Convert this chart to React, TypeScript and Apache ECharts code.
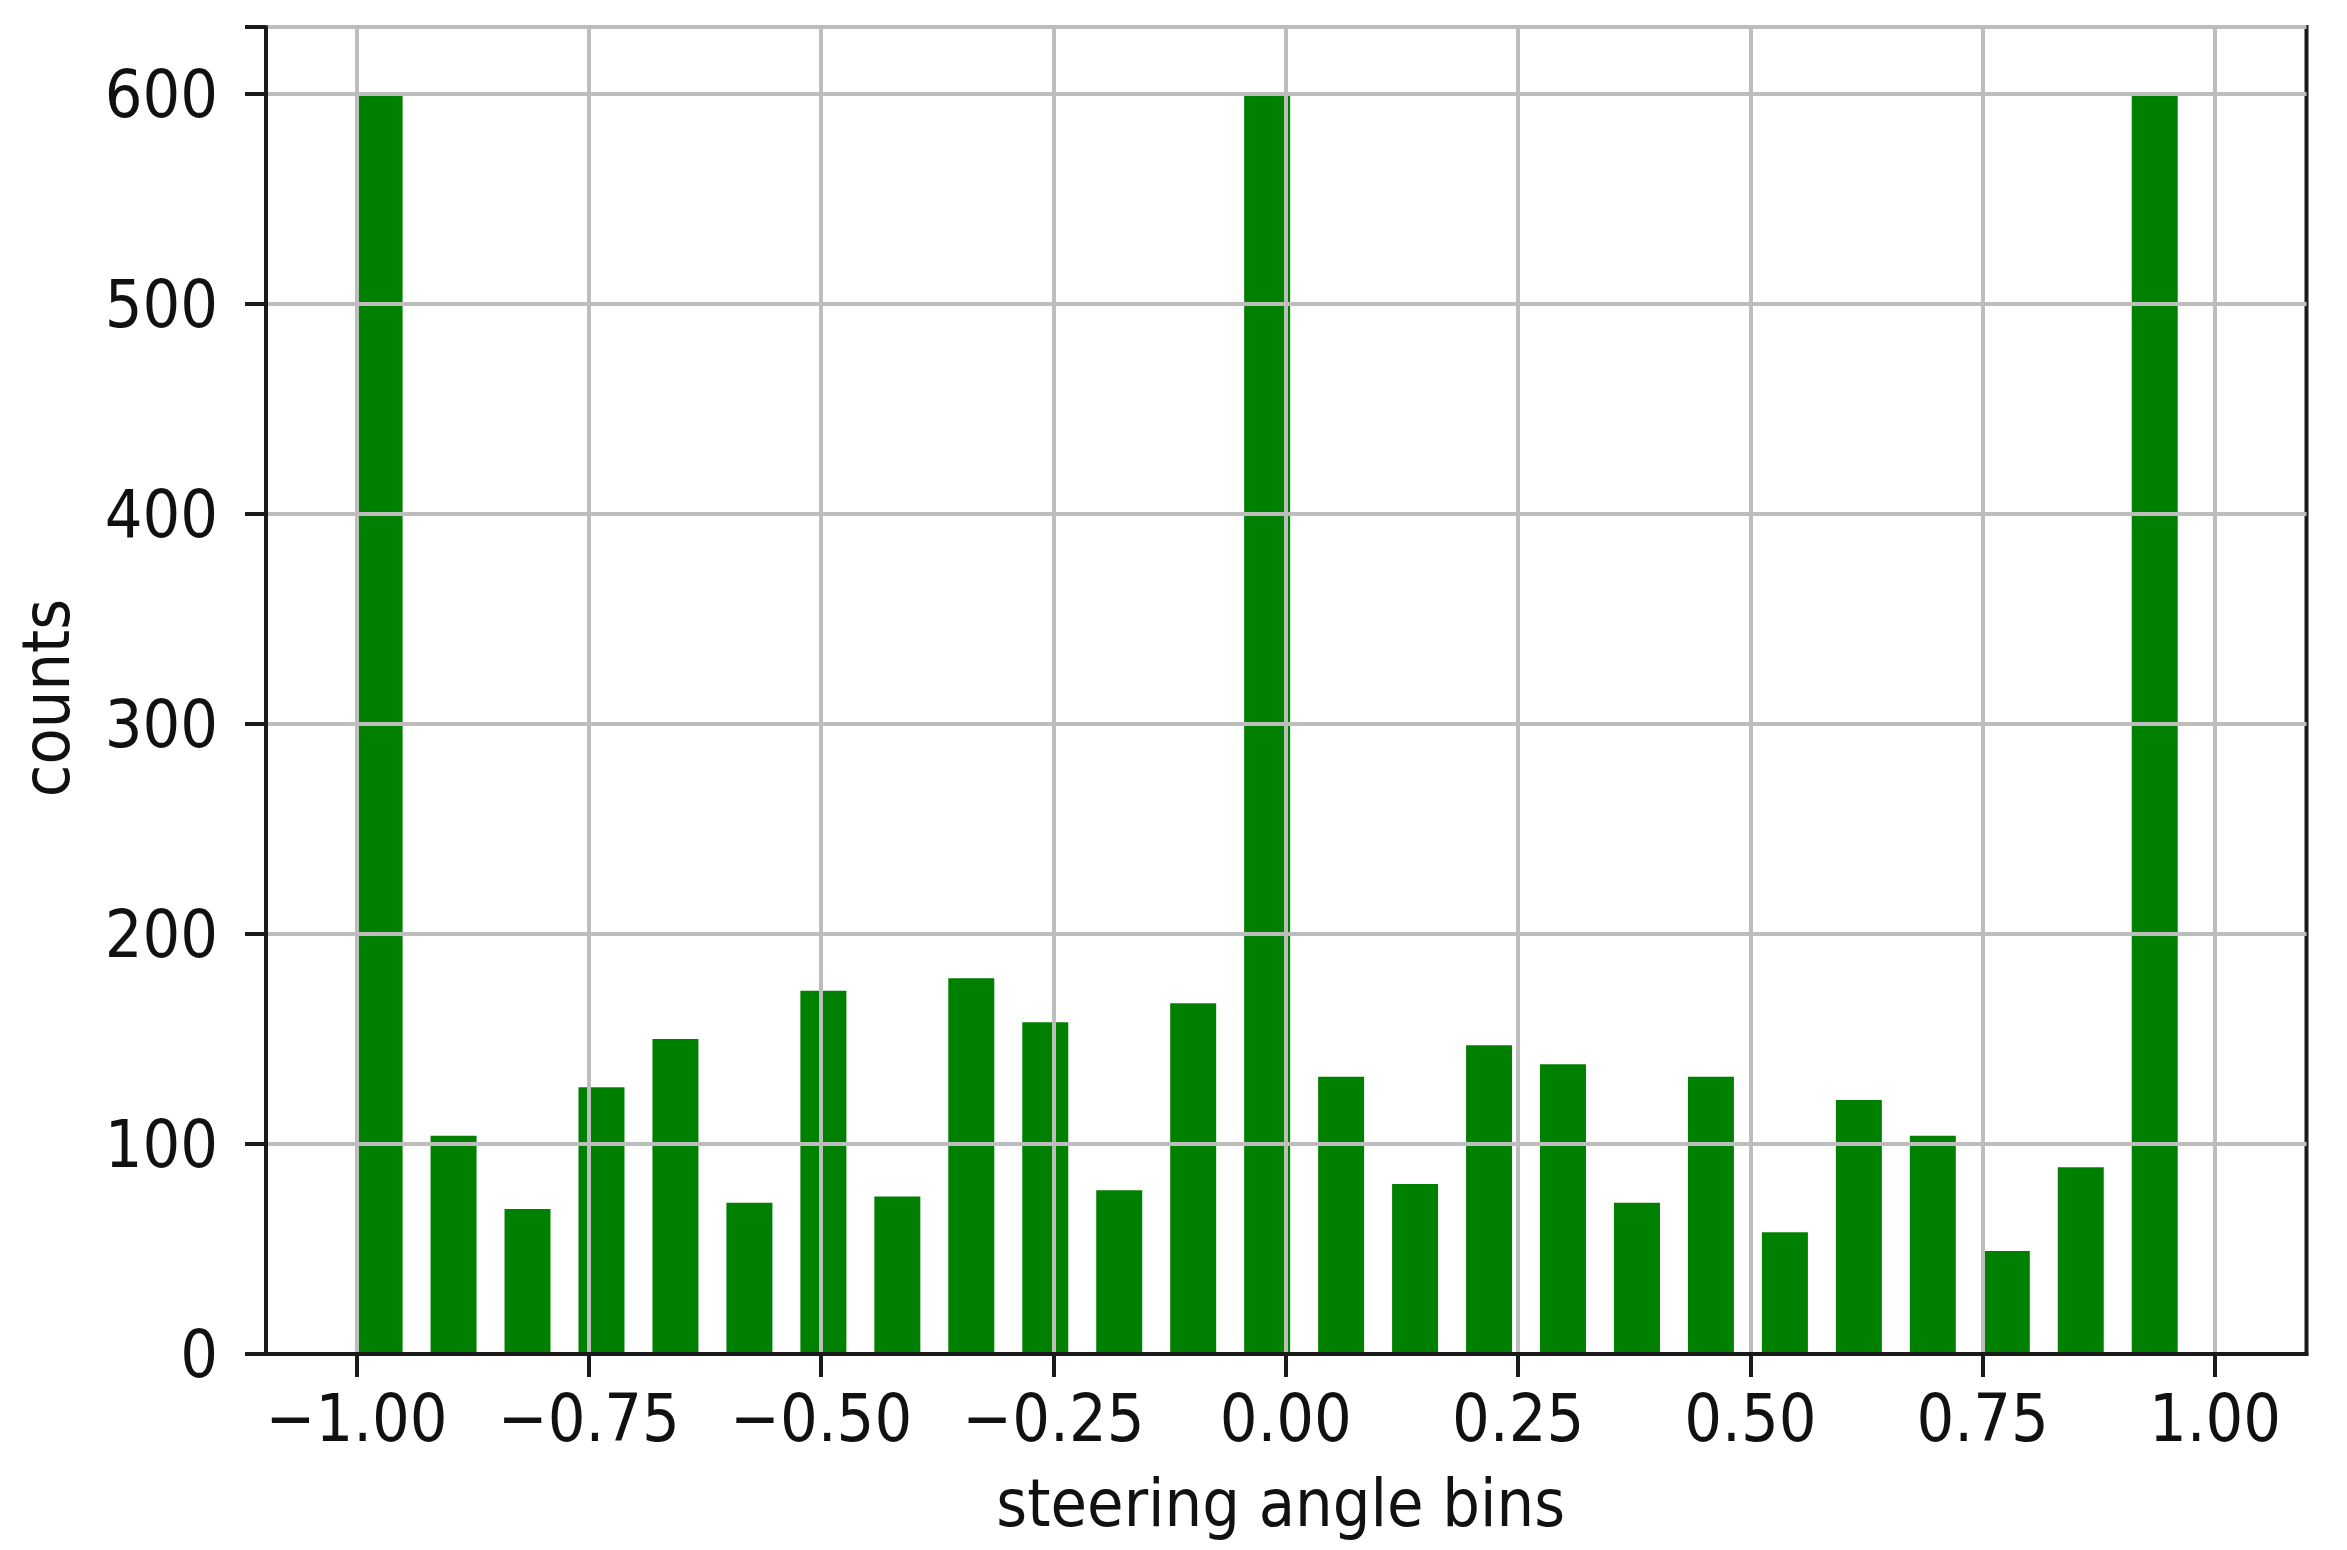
import React, { useEffect, useRef } from "react";
import * as echarts from "echarts";

// Left edges of the 25 histogram bins (steering angle)
const binLefts: number[] = [
  -1.0, -0.9204, -0.8408, -0.7612, -0.6816, -0.602, -0.5224, -0.4428, -0.3632,
  -0.2836, -0.204, -0.1244, -0.0448, 0.0348, 0.1144, 0.194, 0.2736, 0.3532,
  0.4328, 0.5124, 0.592, 0.6716, 0.7512, 0.8308, 0.9104,
];
// Counts per bin
const counts: number[] = [
  600, 104, 69, 127, 150, 72, 173, 75, 179, 158, 78, 167, 600, 132, 81, 147,
  138, 72, 132, 58, 121, 104, 49, 89, 600,
];
const barWidthUnits = 0.0495;
const xTicks: number[] = [-1, -0.75, -0.5, -0.25, 0, 0.25, 0.5, 0.75, 1];
const yTicks: number[] = [0, 100, 200, 300, 400, 500, 600];
const xName = "steering angle bins";
const yName = "counts";

const FONT = "'DejaVu Sans Condensed', 'DejaVu Sans', sans-serif";
const FS = 66;
const TEXT = "#111";
const SPINE = "#1a1a1a";
const GRID = "#bdbdbd";

export default function App() {
  const ref = useRef<HTMLDivElement>(null);
  useEffect(() => {
    if (!ref.current) return;
    const chart = echarts.init(ref.current, undefined, { renderer: "svg" });
    const data = binLefts.map((l, i) => [l, l + barWidthUnits, counts[i]]);
    chart.setOption({
      animation: false,
      backgroundColor: "#fff",
      grid: {
        left: 266,
        right: 40.5,
        top: 27,
        bottom: 196,
        show: true,
        borderColor: SPINE,
        borderWidth: 4,
        backgroundColor: "transparent",
      },
      xAxis: {
        type: "value",
        min: -1.0975,
        max: 1.0985,
        z: 10,
        name: xName,
        nameLocation: "middle",
        nameGap: 116,
        nameTextStyle: {
          fontFamily: FONT,
          fontSize: FS,
          color: TEXT,
          padding: [0, 11, 0, 0],
        },
        axisLine: { show: true, onZero: false, lineStyle: { color: SPINE, width: 4 } },
        axisTick: {
          show: true,
          length: 23,
          customValues: xTicks,
          lineStyle: { color: SPINE, width: 4 },
        },
        axisLabel: {
          customValues: xTicks,
          margin: 31,
          fontFamily: FONT,
          fontSize: FS,
          color: TEXT,
          formatter: (v: number) => (v < 0 ? "\u2212" : "") + Math.abs(v).toFixed(2),
        },
        splitLine: { show: true, lineStyle: { color: GRID, width: 4 } },
      },
      yAxis: {
        type: "value",
        min: 0,
        max: 632,
        interval: 100,
        z: 10,
        name: yName,
        nameLocation: "middle",
        nameGap: 187,
        nameRotate: 90,
        nameTextStyle: {
          fontFamily: FONT,
          fontSize: FS,
          color: TEXT,
          padding: [0, 15, 0, 0],
        },
        axisLine: { show: true, onZero: false, lineStyle: { color: SPINE, width: 4 } },
        axisTick: { show: true, length: 21, lineStyle: { color: SPINE, width: 4 } },
        axisLabel: {
          margin: 48,
          fontFamily: FONT,
          fontSize: FS,
          color: TEXT,
          customValues: yTicks,
        },
        splitLine: { show: true, lineStyle: { color: GRID, width: 4 } },
      },
      series: [
        {
          type: "custom",
          z: 2,
          encode: { x: [0, 1], y: 2 },
          data,
          renderItem: (params: any, api: any) => {
            const x0 = api.value(0);
            const x1 = api.value(1);
            const y = api.value(2);
            const pTop = api.coord([x0, y]);
            const pBot = api.coord([x1, 0]);
            return {
              type: "rect",
              shape: {
                x: pTop[0],
                y: pTop[1],
                width: pBot[0] - pTop[0],
                height: pBot[1] - pTop[1],
              },
              style: { fill: "#008000" },
            };
          },
        },
      ],
    });
    return () => chart.dispose();
  }, []);
  return (
    <div
      ref={ref}
      style={{ position: "fixed", left: 0, top: 0, width: 2347, height: 1550, background: "#fff" }}
    />
  );
}
